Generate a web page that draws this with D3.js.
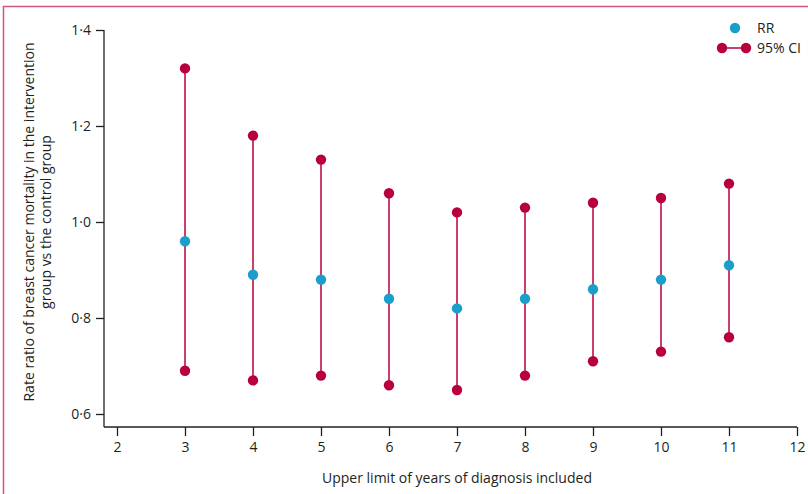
<!DOCTYPE html>
<html><head><meta charset="utf-8">
<script src="https://cdn.jsdelivr.net/npm/d3@7"></script>
<style>body{margin:0;background:#fff;} text{font-family:"Open Sans",Lato,sans-serif;fill:#231f20;}</style>
</head><body>
<svg id="chart" width="808" height="494"></svg>
<script>
const years = [3,4,5,6,7,8,9,10,11];
const rr = [0.96,0.89,0.88,0.84,0.82,0.84,0.86,0.88,0.91];
const lower = [0.69,0.67,0.68,0.66,0.65,0.68,0.71,0.73,0.76];
const upper = [1.32,1.18,1.13,1.06,1.02,1.03,1.04,1.05,1.08];
const xTicks = [2,3,4,5,6,7,8,9,10,11,12];
const yTicks = [0.6,0.8,1.0,1.2,1.4];
const yTickLabels = ["0·6","0·8","1·0","1·2","1·4"];

const svg = d3.select("#chart");
const red = "#b8003c", blue = "#1a9fcb";

// frame
svg.append("path").attr("d","M3.5,494 L3.5,6.5 L808,6.5").attr("fill","none")
  .attr("stroke","#d4547f").attr("stroke-width",1.5);

const x = d3.scaleLinear().domain([2,12]).range([117,797]);
const y = d3.scaleLinear().domain([0.6,1.4]).range([414,30]);
const axisX = 104, axisY = 427;

// x axis
const gx = svg.append("g").attr("transform",`translate(0,${axisY})`);
gx.append("line").attr("x1",axisX).attr("x2",x(12)).attr("y1",0).attr("y2",0).attr("stroke","#231f20").attr("stroke-width",1.3);
gx.call(g=>{
  const ax = d3.axisBottom(x).tickValues(xTicks).tickSize(9).tickPadding(6).tickFormat(d3.format("d"));
  g.append("g").call(ax).call(a=>a.select(".domain").remove())
   .call(a=>a.selectAll("line").attr("stroke","#231f20").attr("stroke-width",1.3))
   .call(a=>a.selectAll("text").attr("font-size",14).attr("font-family","'Open Sans',Lato,sans-serif").attr("fill","#231f20"));
});

// y axis
const gy = svg.append("g").attr("transform",`translate(${axisX},0)`);
gy.append("line").attr("x1",0).attr("x2",0).attr("y1",y(1.4)).attr("y2",axisY).attr("stroke","#231f20").attr("stroke-width",1.3);
const ayy = d3.axisLeft(y).tickValues(yTicks).tickSize(8).tickPadding(5).tickFormat((d,i)=>yTickLabels[i]);
gy.append("g").call(ayy).call(a=>a.select(".domain").remove())
  .call(a=>a.selectAll("line").attr("stroke","#231f20").attr("stroke-width",1.3))
  .call(a=>a.selectAll("text").attr("font-size",14).attr("font-family","'Open Sans',Lato,sans-serif").attr("fill","#231f20"));

// CI lines
const data = years.map((yr,i)=>({yr, rr:rr[i], lo:lower[i], hi:upper[i]}));
svg.append("g").selectAll("line").data(data).join("line")
  .attr("x1",d=>x(d.yr)).attr("x2",d=>x(d.yr)).attr("y1",d=>y(d.hi)).attr("y2",d=>y(d.lo))
  .attr("stroke",red).attr("stroke-width",1.5);
svg.append("g").selectAll("circle").data(data.flatMap(d=>[{yr:d.yr,v:d.hi},{yr:d.yr,v:d.lo}])).join("circle")
  .attr("cx",d=>x(d.yr)).attr("cy",d=>y(d.v)).attr("r",5.2).attr("fill",red);
svg.append("g").selectAll("circle").data(data).join("circle")
  .attr("cx",d=>x(d.yr)).attr("cy",d=>y(d.rr)).attr("r",5.2).attr("fill",blue);

// legend
const lg = svg.append("g");
lg.append("circle").attr("cx",735).attr("cy",28).attr("r",5.2).attr("fill",blue);
lg.append("text").attr("x",757).attr("y",33).attr("font-size",14).text("RR");
lg.append("line").attr("x1",722).attr("x2",746).attr("y1",48).attr("y2",48).attr("stroke",red).attr("stroke-width",1.5);
lg.append("circle").attr("cx",722).attr("cy",48).attr("r",5.2).attr("fill",red);
lg.append("circle").attr("cx",746).attr("cy",48).attr("r",5.2).attr("fill",red);
lg.append("text").attr("x",757).attr("y",53).attr("font-size",14).text("95% CI");

// axis titles
svg.append("text").attr("x",x(7)).attr("y",483).attr("text-anchor","middle").attr("font-size",14)
  .text("Upper limit of years of diagnosis included");
const yt = svg.append("text").attr("transform","translate(0,222) rotate(-90)").attr("text-anchor","middle").attr("font-size",14);
yt.append("tspan").attr("x",0).attr("y",34).text("Rate ratio of breast cancer mortality in the intervention");
yt.append("tspan").attr("x",0).attr("y",51).text("group vs the control group");
</script>
</body></html>
